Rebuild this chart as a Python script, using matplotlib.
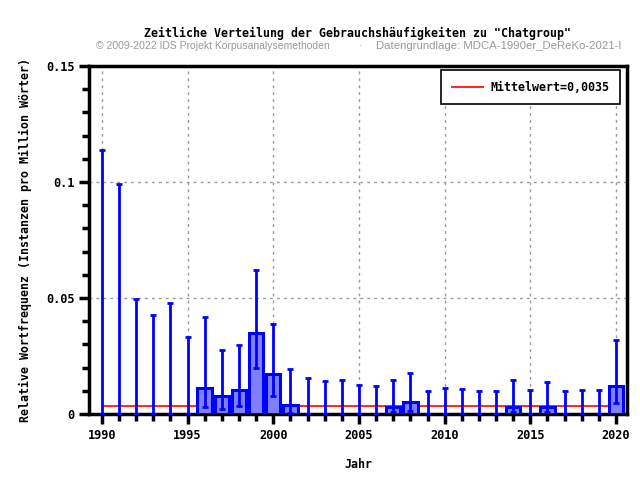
import numpy as np
import matplotlib
matplotlib.use("Agg")
import matplotlib.pyplot as plt
from matplotlib.ticker import MultipleLocator, FixedLocator

# Daten
jahre = np.arange(1990, 2021)
werte = [0, 0, 0, 0, 0, 0, 0.0112, 0.0076, 0.0102, 0.035, 0.0174, 0.0037,
         0, 0, 0, 0, 0, 0.0029, 0.005, 0, 0, 0, 0, 0, 0.0029, 0, 0.0029,
         0, 0, 0, 0.0122]
unten = [0, 0, 0, 0, 0, 0, 0.0031, 0.0023, 0.0036, 0.020, 0.0079, 0.0003,
         0, 0, 0, 0, 0, 0.0009, 0.0014, 0, 0, 0, 0, 0, 0.0009, 0, 0.0009,
         0, 0, 0, 0.0049]
oben = [0.1138, 0.0991, 0.0496, 0.0427, 0.0478, 0.0332, 0.0418, 0.0277,
        0.0297, 0.062, 0.0389, 0.0195, 0.0157, 0.0144, 0.0148, 0.0126,
        0.0122, 0.0147, 0.0178, 0.0099, 0.0113, 0.0108, 0.0099, 0.0099,
        0.0147, 0.0105, 0.0138, 0.0099, 0.0103, 0.0103, 0.0319]
mittelwert = 0.0035

werte = np.array(werte)
fehler = np.array([werte - np.array(unten), np.array(oben) - werte])

mono = "DejaVu Sans Mono"

fig = plt.figure(figsize=(6.4, 4.8), dpi=100)
ax = fig.add_axes([0.139, 0.1375, 0.841, 0.725])

ax.hlines(mittelwert, jahre[0], jahre[-1], color="red", lw=1.2, zorder=2,
          label="Mittelwert=0,0035")
ax.bar(jahre[werte > 0], werte[werte > 0], width=0.84, color="#8080ff",
       edgecolor="#0000ff", linewidth=2.2, zorder=3)
ax.errorbar(jahre, werte, yerr=fehler, fmt="none", ecolor="#0000ff",
            elinewidth=2, capsize=2.5, capthick=2, zorder=4)

ax.set_xlim(1989.25, 2020.65)
ax.set_ylim(0, 0.15)
ax.xaxis.set_major_locator(FixedLocator([1990, 1995, 2000, 2005, 2010, 2015, 2020]))
ax.xaxis.set_minor_locator(MultipleLocator(1))
ax.yaxis.set_major_locator(FixedLocator([0, 0.05, 0.1, 0.15]))
ax.yaxis.set_minor_locator(MultipleLocator(0.01))
ax.set_yticklabels(["0", "0.05", "0.1", "0.15"])

ax.grid(True, which="major", color="#999999", linestyle=(0, (2, 3)), lw=1)
ax.set_axisbelow(True)
for s in ax.spines.values():
    s.set_linewidth(2.5)
ax.tick_params(which="major", direction="out", length=7, width=2.5)
ax.tick_params(which="minor", direction="out", length=5, width=2.5)
for lab in ax.get_xticklabels() + ax.get_yticklabels():
    lab.set_fontfamily(mono)
    lab.set_fontweight("bold")
    lab.set_fontsize(8.6)

ax.set_xlabel("Jahr", fontfamily=mono, fontweight="bold", fontsize=8.4, labelpad=12)
ax.set_ylabel("Relative Wortfrequenz (Instanzen pro Million Wörter)",
              fontfamily=mono, fontweight="bold", fontsize=8.4, labelpad=10)

fig.text(0.559, 0.931, 'Zeitliche Verteilung der Gebrauchshäufigkeiten zu "Chatgroup"',
         ha="center", va="center", fontfamily=mono, fontweight="bold", fontsize=8.4)
fig.text(0.15, 0.904, "© 2009-2022 IDS Projekt Korpusanalysemethoden", ha="left",
         va="center", fontfamily="Liberation Sans", fontsize=7.5, color="#999999")
fig.text(0.56, 0.904, "·", ha="left", va="center", fontfamily="Liberation Sans",
         fontsize=7.5, color="#999999")
fig.text(0.587, 0.904, "Datengrundlage: MDCA-1990er_DeReKo-2021-I", ha="left",
         va="center", fontfamily="Liberation Sans", fontsize=8.2, color="#999999")

leg = ax.legend(loc="upper right", prop={"family": mono, "weight": "bold", "size": 8.4},
                fancybox=False, edgecolor="black", framealpha=1,
                borderpad=0.9, handlelength=2.8, handletextpad=0.6,
                borderaxespad=0, bbox_to_anchor=(0.987, 0.988))
leg.get_frame().set_linewidth(1.2)

fig.savefig("out.png", dpi=100)
